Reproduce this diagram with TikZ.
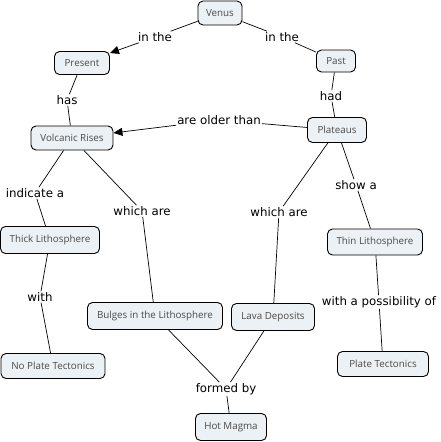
\documentclass[tikz,border=0pt]{standalone}
\usepackage{fontspec}
\setmainfont{DejaVu Sans}
\newfontfamily\nodefont{Open Sans}
\usetikzlibrary{arrows.meta}
\definecolor{nodefill}{HTML}{EBF1F4}
\definecolor{nodetext}{HTML}{4A4A4A}
\begin{document}
\begin{tikzpicture}[x=1pt,y=-1pt,
  concept/.style={draw=black,line width=0.9pt,fill=nodefill,rounded corners=5pt,
    minimum height=24pt,inner xsep=4pt,inner ysep=2pt,
    font=\nodefont\fontsize{9.8}{11}\selectfont,text=nodetext},
  link/.style={font=\fontsize{11.8}{13}\selectfont,inner sep=1pt,fill=white},
  conn/.style={line width=0.7pt},
  arr/.style={conn,-{Triangle[length=9pt,width=8pt]}}]
\useasboundingbox[fill=white] (0,0) rectangle (441,442);
% concepts
\node[concept,minimum width=44pt] (venus) at (220,13) {Venus};
\node[concept,minimum width=55pt,minimum height=23pt] (present) at (82,63) {Present};
\node[concept,minimum width=39pt,minimum height=22pt] (past) at (336,61) {Past};
\node[concept,minimum width=82pt] (volc) at (72,138) {Volcanic Rises};
\node[concept,minimum width=59pt,minimum height=25pt] (plat) at (337,130) {Plateaus};
\node[concept,minimum width=99pt,minimum height=27pt] (thick) at (50,240) {Thick Lithosphere};
\node[concept,minimum width=95pt,minimum height=26pt] (thin) at (375,242) {Thin Lithosphere};
\node[concept,minimum width=135pt,minimum height=27pt] (bulges) at (155,316) {Bulges in the Lithosphere};
\node[concept,minimum width=83pt,minimum height=27pt] (lava) at (273,317) {Lava Deposits};
\node[concept,minimum width=104pt,minimum height=25pt] (noplate) at (53,366) {No Plate Tectonics};
\node[concept,minimum width=91pt,minimum height=25pt] (plate) at (383,364) {Plate Tectonics};
\node[concept,minimum width=71pt,minimum height=27pt] (magma) at (231,427) {Hot Magma};
% linking phrases
\node[link] (l1) at (155,37) {in the};
\node[link] (l2) at (282,37) {in the};
\node[link] (l3) at (67,100) {has};
\node[link] (l4) at (331,96) {had};
\node[link] (l5) at (219,120) {are older than};
\node[link] (l6) at (35,193) {indicate a};
\node[link] (l7) at (142,211) {which are};
\node[link] (l8) at (279,212) {which are};
\node[link] (l9) at (356,185) {show a};
\node[link] (l10) at (40,297) {with};
\node[link] (l11) at (379,302) {with a possibility of};
\node[link] (l12) at (226,389) {formed by};
% connectors
\draw[conn] (venus) -- (l1);
\draw[arr] (l1) -- (present);
\draw[conn] (venus) -- (l2);
\draw[conn] (l2) -- (past);
\draw[conn] (present) -- (l3);
\draw[conn] (l3) -- (volc);
\draw[conn] (past) -- (l4);
\draw[conn] (l4) -- (plat);
\draw[conn] (plat) -- (l5);
\draw[arr] (l5) -- (volc);
\draw[conn] (volc) -- (l6);
\draw[conn] (l6) -- (thick);
\draw[conn] (volc) -- (l7);
\draw[conn] (l7) -- (bulges);
\draw[conn] (plat) -- (l8);
\draw[conn] (l8) -- (lava);
\draw[conn] (plat) -- (l9);
\draw[conn] (l9) -- (thin);
\draw[conn] (thick) -- (l10);
\draw[conn] (l10) -- (noplate);
\draw[conn] (thin) -- (l11);
\draw[conn] (l11) -- (plate);
\draw[conn] (bulges) -- (l12);
\draw[conn] (lava) -- (l12);
\draw[conn] (l12) -- (magma);
\end{tikzpicture}
\end{document}
